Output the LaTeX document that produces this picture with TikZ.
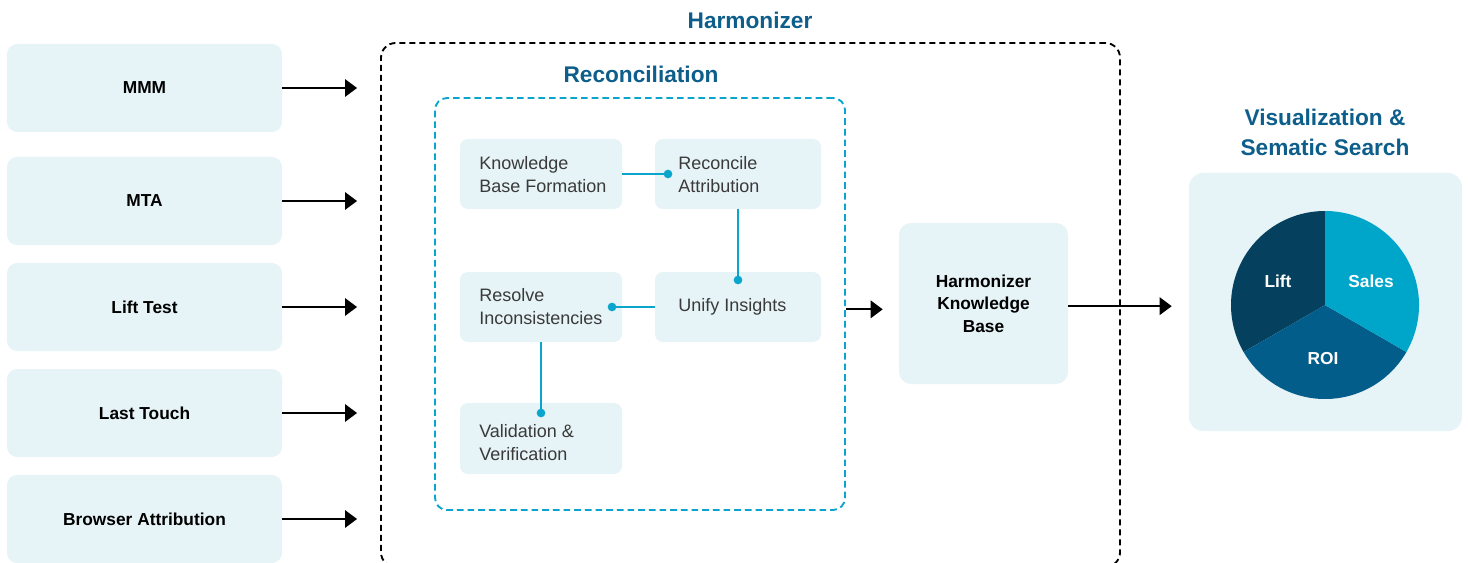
\documentclass[tikz,border=0pt]{standalone}
\usepackage{fontspec}
\setmainfont{Liberation Sans}
\usetikzlibrary{arrows.meta}
\definecolor{boxfill}{HTML}{E6F3F7}
\definecolor{titleblue}{HTML}{0D5E8A}
\definecolor{linkcyan}{HTML}{0AA5CC}
\definecolor{stepgray}{HTML}{3A3A3A}
\definecolor{pieLift}{HTML}{05415E}
\definecolor{pieSales}{HTML}{00A6C9}
\definecolor{pieROI}{HTML}{035D8A}
\begin{document}
\begin{tikzpicture}[x=0.75pt,y=-0.75pt,
  srcbox/.style={fill=boxfill, rounded corners=7.5pt, minimum width=206.25pt,
    minimum height=66pt, font=\fontsize{13}{16}\selectfont\bfseries, text=black},
  stepbox/.style={fill=boxfill, rounded corners=6pt, minimum height=52.5pt, inner sep=0pt},
  steptext/.style={anchor=west, align=left, inner sep=0pt,
    font=\fontsize{13.5}{17.25}\selectfont, text=stepgray},
  heading/.style={font=\fontsize{17}{23}\selectfont\bfseries, text=titleblue, align=center},
  flow/.style={draw=black, line width=1.5pt, -{Triangle[length=9pt,width=13pt]}},
  link/.style={draw=linkcyan, line width=1.5pt},
  dot/.style={circle, fill=linkcyan, inner sep=0pt, minimum size=6.5pt},
  pielabel/.style={font=\fontsize{13}{16}\selectfont\bfseries, text=white}]
\useasboundingbox (0,0) rectangle (1468,563);
\clip (0,0) rectangle (1468,563);

% input sources
\node[srcbox] (mmm)  at (144.5,88)  {MMM};
\node[srcbox] (mta)  at (144.5,201) {MTA};
\node[srcbox] (lift) at (144.5,307) {Lift Test};
\node[srcbox] (last) at (144.5,413) {Last Touch};
\node[srcbox] (brow) at (144.5,519) {Browser Attribution};

% harmonizer container
\node[draw=black, dash pattern=on 4.5pt off 3pt, line width=1.4pt,
      rounded corners=11pt, minimum width=554.25pt, minimum height=393pt]
      (harm) at (750.5,305) {};
\node[heading] (harm-t) at (750,20) {Harmonizer};

% reconciliation container
\node[draw=linkcyan, dash pattern=on 5pt off 3pt, line width=1.4pt,
      rounded corners=9pt, minimum width=307.5pt, minimum height=309pt]
      (recon) at (640,304) {};
\node[heading] (recon-t) at (641,74) {Reconciliation};

% reconciliation steps
\node[stepbox, minimum width=121.5pt] (kbf) at (541,174) {};
\node[stepbox, minimum width=124.5pt] (ra)  at (738,174) {};
\node[stepbox, minimum width=121.5pt] (ri)  at (541,307) {};
\node[stepbox, minimum width=124.5pt] (ui)  at (738,307) {};
\node[stepbox, minimum width=121.5pt, minimum height=53.25pt] (vv) at (541,438.5) {};

\node[steptext] (kbf-t) at (479,174.5) {Knowledge\\Base Formation};
\node[steptext] (ra-t)  at (678,174.5) {Reconcile\\Attribution};
\node[steptext] (ri-t)  at (479,306.5) {Resolve\\Inconsistencies};
\node[steptext] (ui-t)  at (678,307)   {Unify Insights};
\node[steptext] (vv-t)  at (479,442.5) {Validation \&\\Verification};

% step links
\node[dot] (d1) at (668,174) {};
\node[dot] (d2) at (738,280) {};
\node[dot] (d3) at (612,307) {};
\node[dot] (d4) at (541,413) {};
\draw[link] (kbf.east) -- (d1.center);
\draw[link] (ra.south) -- (d2.center);
\draw[link] (ui.west) -- (d3.center);
\draw[link] (ri.south) -- (d4.center);

% knowledge base
\node[fill=boxfill, rounded corners=9pt, minimum width=126.75pt, minimum height=120.75pt,
      align=center, font=\fontsize{13}{17}\selectfont\bfseries]
      (kb) at (983.5,303.5) {Harmonizer\\Knowledge\\Base};

% visualization panel
\node[fill=boxfill, rounded corners=10.5pt, minimum width=204.75pt, minimum height=193.5pt]
      (viz) at (1325.5,302) {};
\node[heading] (viz-t) at (1325,132.5) {Visualization \&\\Sematic Search};

\coordinate (pc) at (1325,305);
\fill[pieLift]  (pc) -- +(90:70.5pt)  arc[start angle=90,  end angle=210, radius=70.5pt] -- cycle;
\fill[pieROI]   (pc) -- +(210:70.5pt) arc[start angle=210, end angle=330, radius=70.5pt] -- cycle;
\fill[pieSales] (pc) -- +(-30:70.5pt) arc[start angle=-30, end angle=90,  radius=70.5pt] -- cycle;
\node[pielabel] (p-lift)  at (1278,281) {Lift};
\node[pielabel] (p-sales) at (1371,281) {Sales};
\node[pielabel] (p-roi)   at (1323,359) {ROI};

% flow arrows
\foreach \s in {mmm,mta,lift,last,brow}
  \draw[flow, shorten >=17.25pt] (\s.east) -- (\s.east -| harm.west);
\draw[flow, shorten >=12pt] ([yshift=-4pt]recon.east) -- ([yshift=-4pt]recon.east -| kb.west);
\draw[flow, shorten >=12.75pt] ([yshift=-2pt]kb.east) -- ([yshift=-2pt]kb.east -| viz.west);
\end{tikzpicture}
\end{document}
